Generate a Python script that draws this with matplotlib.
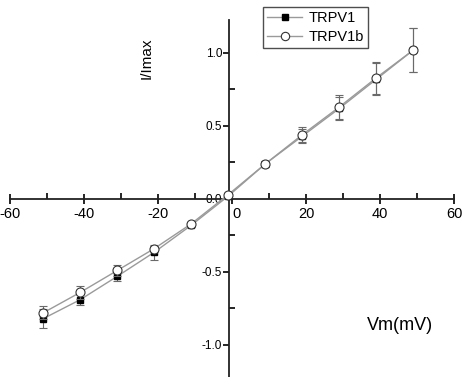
import numpy as np
import matplotlib
matplotlib.use("Agg")
import matplotlib.pyplot as plt
from matplotlib.ticker import MultipleLocator
from matplotlib.lines import Line2D

plt.rcParams['font.family'] = ['Liberation Sans', 'DejaVu Sans']

# membrane potential (mV)
vm = [-51, -41, -31, -21, -11, -1, 9, 19, 29, 39, 49]

# normalised current
trpv1 = [-0.82, -0.69, -0.53, -0.365, -0.18, 0.02, 0.24, 0.43, 0.62, 0.82, 1.02]
trpv1_err = [0.065, 0.04, 0.035, 0.05, 0.015, 0.01, 0.02, 0.05, 0.08, 0.11, 0.15]

trpv1b = [-0.78, -0.64, -0.49, -0.34, -0.17, 0.03, 0.24, 0.44, 0.63, 0.83, 1.02]
trpv1b_err = [0.045, 0.045, 0.035, 0.02, 0.015, 0.01, 0.02, 0.05, 0.08, 0.11, 0.15]

W, H = 466, 377
fig = plt.figure(figsize=(W / 100, H / 100), dpi=100)
ax = fig.add_axes([10 / W, 0, 444 / W, 357 / H])

line_col = '#9a9a9a'
err_col = '#6a6a6a'

ax.errorbar(vm, trpv1, yerr=trpv1_err, color=line_col, lw=1.0,
            marker='s', ms=4.5, mfc='black', mec='black',
            ecolor=err_col, elinewidth=0.8, capsize=3, capthick=0.8,
            zorder=3)
ax.errorbar(vm, trpv1b, yerr=trpv1b_err, color=line_col, lw=1.0,
            marker='o', ms=6.5, mfc='white', mec='#333333', mew=0.8,
            ecolor=err_col, elinewidth=0.8, capsize=3, capthick=0.8,
            zorder=4)

ax.set_xlim(-60, 60)
ax.set_ylim(-1.22, 1.226)

# axes crossing at origin
ax.spines['left'].set_position(('data', -0.8))
ax.spines['bottom'].set_position(('data', 0))
ax.spines['right'].set_visible(False)
ax.spines['top'].set_visible(False)
for s in ('left', 'bottom'):
    ax.spines[s].set_linewidth(1.3)
    ax.spines[s].set_color('#222222')

ax.xaxis.set_major_locator(MultipleLocator(20))
ax.xaxis.set_minor_locator(MultipleLocator(10))
ax.yaxis.set_major_locator(MultipleLocator(0.5))
ax.yaxis.set_minor_locator(MultipleLocator(0.25))

ax.tick_params(axis='x', which='major', direction='inout', length=7, width=1.2,
               labelsize=10.5, pad=2)
ax.tick_params(axis='x', which='minor', direction='in', length=4, width=1.2)
ax.tick_params(axis='y', which='major', direction='out', length=4, width=1.2,
               labelsize=8.5, pad=1)
ax.tick_params(axis='y', which='minor', direction='in', length=4, width=1.2)

ax.set_xticklabels(['{:d}'.format(int(t)) for t in ax.get_xticks()])
ax.set_yticks([-1.0, -0.5, 0.0, 0.5, 1.0])
ax.set_yticklabels(['-1.0', '-0.5', '0.0', '0.5', '1.0'])
for lab in ax.get_xticklabels():
    lab.set_horizontalalignment('left' if lab.get_text() == '0' else 'center')

fig.text(147 / W, 1 - 58 / H, 'I/Imax', rotation=90, fontsize=11,
         ha='center', va='center')
fig.text(400 / W, 1 - 326 / H, 'Vm(mV)', fontsize=13, ha='center', va='center')

handles = [
    Line2D([], [], color=line_col, lw=1.0, marker='s', ms=4.5,
           mfc='black', mec='black'),
    Line2D([], [], color=line_col, lw=1.0, marker='o', ms=6,
           mfc='white', mec='#333333', mew=0.8),
]
leg = ax.legend(handles, ['TRPV1', 'TRPV1b'], loc='upper left',
                bbox_to_anchor=(263 / W, 1 - 7 / H),
                bbox_transform=fig.transFigure, borderaxespad=0,
                fontsize=10.5, fancybox=False, frameon=True, handlelength=2.4,
                handletextpad=0.4, borderpad=0.3, labelspacing=0.3)
leg.get_frame().set_edgecolor('#222222')
leg.get_frame().set_linewidth(1.0)

fig.savefig('out.png', dpi=100)
